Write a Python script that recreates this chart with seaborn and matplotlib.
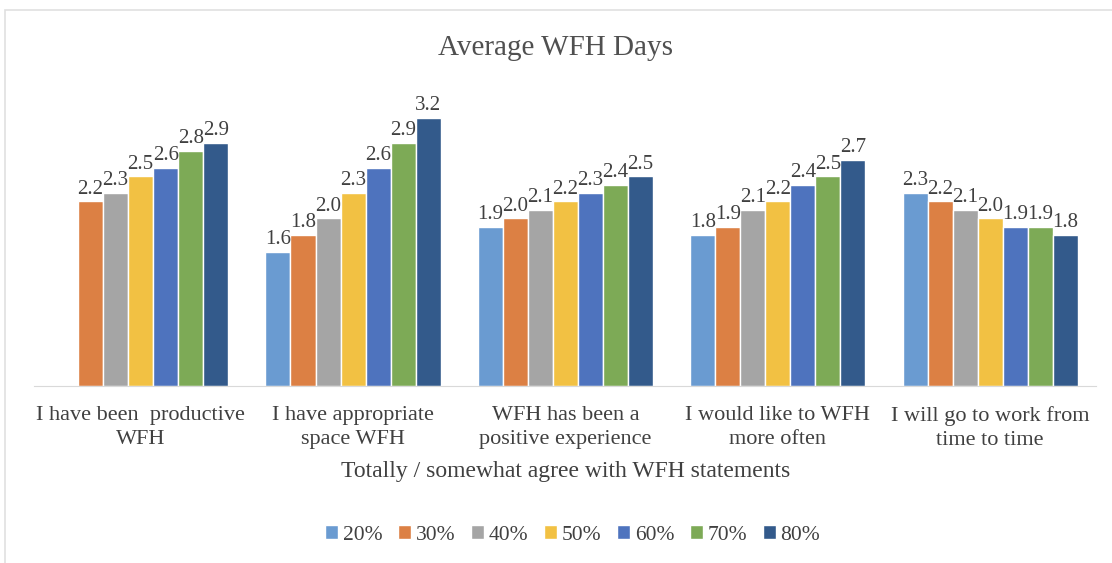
import numpy as np
import pandas as pd
import seaborn as sns
import matplotlib.pyplot as plt
from matplotlib.patches import Rectangle

statements = [
    'I have been  productive\nWFH',
    'I have appropriate\nspace WFH',
    'WFH has been a\npositive experience',
    'I would like to WFH\nmore often',
    'I will go to work from\ntime to time',
]
levels = ['20%', '30%', '40%', '50%', '60%', '70%', '80%']
v20 = [np.nan, 1.6, 1.9, 1.8, 2.3]
v30 = [2.2, 1.8, 2.0, 1.9, 2.2]
v40 = [2.3, 2.0, 2.1, 2.1, 2.1]
v50 = [2.5, 2.3, 2.2, 2.2, 2.0]
v60 = [2.6, 2.6, 2.3, 2.4, 1.9]
v70 = [2.8, 2.9, 2.4, 2.5, 1.9]
v80 = [2.9, 3.2, 2.5, 2.7, 1.8]
colors = ['#6A9BD1', '#DC8044', '#A5A5A5', '#F2C143', '#4E73BE', '#7DAA56', '#335A8B']

rows = []
for lvl, vals in zip(levels, [v20, v30, v40, v50, v60, v70, v80]):
    for s, v in zip(statements, vals):
        rows.append({'statement': s, 'level': lvl, 'days': v})
df = pd.DataFrame(rows)

sns.set_style('white')
plt.rcParams['font.family'] = ['Liberation Serif', 'DejaVu Serif']

fig = plt.figure(figsize=(11.12, 5.63), dpi=100)
ax = fig.add_axes([0.031, 0.314, 0.955, 0.522])

sns.barplot(data=df, x='statement', y='days', hue='level', order=statements,
            hue_order=levels, palette=colors, width=0.825, ax=ax,
            errorbar=None, saturation=1)

for c in ax.containers:
    ax.bar_label(c, fmt='%.1f', padding=2, fontsize=15, color='#404040')

ax.set_ylim(0, 3.5)
ax.set_yticks([])
ax.set_ylabel('')
ax.set_xlabel('Totally / somewhat agree with WFH statements', fontsize=17,
              color='#404040', labelpad=8)
ax.tick_params(axis='x', labelsize=16, labelcolor='#404040', length=0, pad=14)
for lab in ax.get_xticklabels():
    lab.set_linespacing(1.4)
for sp in ['top', 'left', 'right']:
    ax.spines[sp].set_visible(False)
ax.spines['bottom'].set_color('#D9D9D9')

fig.text(0.5, 0.915, 'Average WFH Days', ha='center', va='center',
         fontsize=21, color='#505050')

ax.legend(loc='center', bbox_to_anchor=(0.507, -0.506), ncol=7, frameon=False,
          fontsize=15.5, handlelength=0.6, handleheight=0.6, handletextpad=0.2,
          columnspacing=0.75, labelcolor='#404040')

fig.patches.append(Rectangle((5 / 1112, -0.01), 1.02, 1 - 10 / 563 + 0.01,
                             transform=fig.transFigure, fill=False,
                             edgecolor='#E0E0E0', linewidth=1.2))

fig.savefig('out.png', dpi=100, facecolor='white')
